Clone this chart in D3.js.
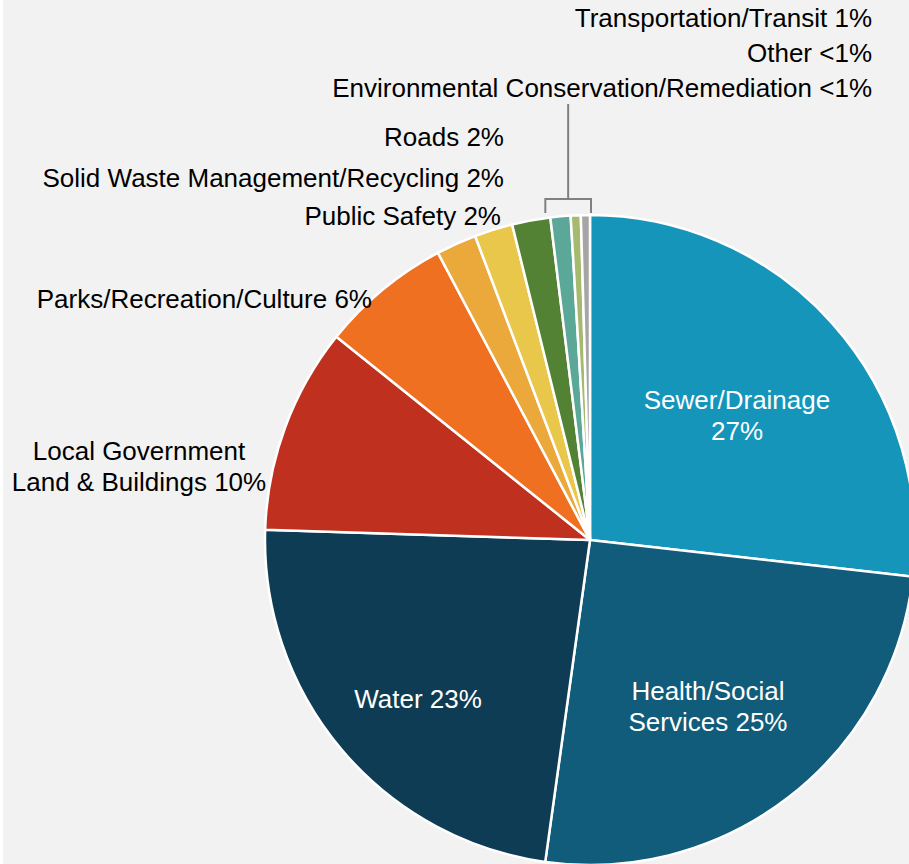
<!DOCTYPE html>
<html>
<head>
<meta charset="utf-8">
<script src="https://cdn.jsdelivr.net/npm/d3@7"></script>
<style>
  html, body { margin: 0; padding: 0; background: #f2f2f2; }
  svg { display: block; font-family: "Liberation Sans", Arial, sans-serif; }
</style>
</head>
<body>
<svg id="chart" width="909" height="864"></svg>
<script>
// slice data, clockwise from 12 o'clock
const categories = [
  "Sewer/Drainage", "Health/Social Services", "Water", "Local Government Land & Buildings",
  "Parks/Recreation/Culture", "Public Safety", "Solid Waste Management/Recycling", "Roads",
  "Transportation/Transit", "Other", "Environmental Conservation/Remediation"
];
const values = [26.8, 25.4, 23.3, 10.25, 6.5, 2.0, 1.9, 1.9, 1.0, 0.5, 0.45];
const pctLabels = ["27%", "25%", "23%", "10%", "6%", "2%", "2%", "2%", "1%", "<1%", "<1%"];
const colors = ["#1595ba", "#115c7a", "#0e3c54", "#c0301f", "#f07022", "#eca93b",
                "#e9c74a", "#548235", "#5ba898", "#a5ba6e", "#a6a6a6"];

// label lines, positioned by hand like the original
const labelLayout = [
  { lines: ["Sewer/Drainage", "27%"], x: 737, y: 409, anchor: "middle", fill: "#fff" },
  { lines: ["Health/Social", "Services 25%"], x: 708, y: 700, anchor: "middle", fill: "#fff" },
  { lines: ["Water 23%"], x: 418, y: 708, anchor: "middle", fill: "#fff" },
  { lines: ["Local Government", "Land & Buildings 10%"], x: 139, y: 460, anchor: "middle", fill: "#000" },
  { lines: ["Parks/Recreation/Culture 6%"], x: 372, y: 308, anchor: "end", fill: "#000" },
  { lines: ["Public Safety 2%"], x: 501, y: 225, anchor: "end", fill: "#000" },
  { lines: ["Solid Waste Management/Recycling 2%"], x: 504, y: 187, anchor: "end", fill: "#000" },
  { lines: ["Roads 2%"], x: 504, y: 146, anchor: "end", fill: "#000" },
  { lines: ["Transportation/Transit 1%"], x: 872, y: 27, anchor: "end", fill: "#000" },
  { lines: ["Other <1%"], x: 872, y: 62, anchor: "end", fill: "#000" },
  { lines: ["Environmental Conservation/Remediation <1%"], x: 872, y: 97, anchor: "end", fill: "#000" }
];

const svg = d3.select("#chart");
const cx = 590, cy = 540, radius = 325;

svg.append("rect").attr("width", 909).attr("height", 864).attr("fill", "#f2f2f2");
svg.append("rect").attr("width", 3).attr("height", 864).attr("fill", "#fff");

const pie = d3.pie().sort(null).value(d => d).startAngle(0).endAngle(2 * Math.PI);
const arc = d3.arc().innerRadius(0).outerRadius(radius);
const arcs = pie(values);

let g = svg.append("g").attr("transform", "translate(" + cx + "," + cy + ")");

g.selectAll("path").data(arcs).enter().append("path")
  .attr("d", arc)
  .attr("fill", (d, i) => colors[i])
  .attr("stroke", "#fff")
  .attr("stroke-width", 2.5)
  .attr("stroke-linejoin", "round");

// bracket over the three smallest slices
const bracketR = radius + 16;
const a0 = arcs[8].startAngle, a1 = arcs[10].endAngle;
const px = a => cx + bracketR * Math.sin(a);
const x0 = px(a0) - 3, x1 = px(a1) + 1;
const yb = cy - bracketR;
const stemX = (x0 + x1) / 2;
svg.append("path")
  .attr("d", "M" + x0 + "," + (yb + 14) + "V" + yb + "H" + x1 + "V" + (yb + 14) +
             "M" + stemX + "," + yb + "V104")
  .attr("fill", "none")
  .attr("stroke", "#808080")
  .attr("stroke-width", 2);

// labels
let labels = svg.selectAll("text.lbl").data(labelLayout).enter().append("text")
  .attr("class", "lbl")
  .attr("x", d => d.x)
  .attr("y", d => d.y)
  .attr("text-anchor", d => d.anchor)
  .attr("fill", d => d.fill)
  .style("font-size", "26px");

labels.selectAll("tspan").data(d => d.lines.map(l => ({ l, x: d.x }))).enter().append("tspan")
  .attr("x", d => d.x)
  .attr("dy", (d, i) => i === 0 ? 0 : 31)
  .text(d => d.l);
</script>
</body>
</html>
